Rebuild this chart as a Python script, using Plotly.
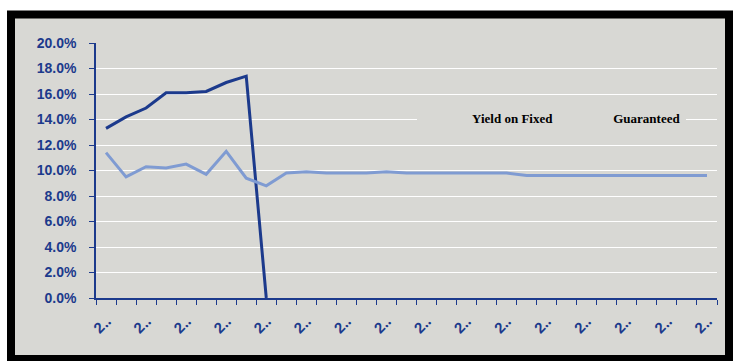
import plotly.graph_objects as go

categories = [str(y) for y in range(2000, 2031)]
tick_labels = ["2\u2025"] * len(categories)

yield_on_fixed = [0.133, 0.142, 0.149, 0.161, 0.161, 0.162, 0.169, 0.174, 0.0] + [None] * 22
guaranteed = [0.114, 0.095, 0.103, 0.102, 0.105, 0.097, 0.115, 0.094, 0.088,
              0.098, 0.099, 0.098, 0.098, 0.098, 0.099, 0.098, 0.098, 0.098,
              0.098, 0.098, 0.098, 0.096, 0.096, 0.096, 0.096, 0.096, 0.096,
              0.096, 0.096, 0.096, 0.096]
series_names = ["Yield on Fixed", "Guaranteed"]

BG = "#d8d8d4"
NAVY = "#1c3a8c"
LIGHT = "#7f9bd2"

x = list(range(len(categories)))

fig = go.Figure()
fig.add_trace(go.Scatter(x=x, y=yield_on_fixed, mode="lines", customdata=categories,
                         line=dict(color=NAVY, width=3), showlegend=False, connectgaps=False))
fig.add_trace(go.Scatter(x=x, y=guaranteed, mode="lines", customdata=categories,
                         line=dict(color=LIGHT, width=3), showlegend=False))
# legend entries (symbols not visible in reference)
for name in series_names:
    fig.add_trace(go.Scatter(x=[None], y=[None], mode="lines", name=name,
                             line=dict(color="rgba(0,0,0,0)", width=0)))

fig.update_layout(
    width=733, height=361,
    margin=dict(l=96, r=16, t=43, b=63),
    paper_bgcolor="white",
    plot_bgcolor=BG,
    showlegend=True,
    legend=dict(orientation="h", x=0.517, y=0.706, xanchor="left", yanchor="middle",
                bgcolor=BG, borderwidth=0,
                font=dict(family="Liberation Serif", size=13, color="black", weight="bold"),
                itemwidth=45, tracegroupgap=0),
    shapes=[dict(type="rect", xref="paper", yref="paper", layer="below",
                 x0=(11 - 96) / 621, x1=(729 - 96) / 621,
                 y0=(298 - 359) / 255, y1=(298 - 14.5) / 255,
                 line=dict(color="black", width=8), fillcolor=BG)],
)

fig.update_xaxes(
    range=[-0.5, len(categories) - 0.5],
    tickmode="array", tickvals=x[::2], ticktext=tick_labels[::2],
    tickangle=-45, ticks="outside", ticklen=0, ticklabelstandoff=7,
    tickfont=dict(family="Liberation Sans", size=15, color=NAVY, weight="bold"),
    showgrid=False, zeroline=False,
    showline=True, linecolor=NAVY, linewidth=2,
    minor=dict(ticks="outside", tick0=-0.5, dtick=1, ticklen=5, tickcolor=NAVY, tickwidth=1, showgrid=False),
)
fig.update_yaxes(
    range=[0, 0.2], dtick=0.02, tickformat=".1%",
    showgrid=True, gridcolor="white", gridwidth=1,
    zeroline=False, showline=True, linecolor=NAVY, linewidth=1.5,
    ticks="outside", ticklen=5, tickcolor=NAVY, ticklabelstandoff=10,
    tickfont=dict(family="Liberation Sans", size=14, color=NAVY, weight="bold"),
)

fig.write_html("out.html")
